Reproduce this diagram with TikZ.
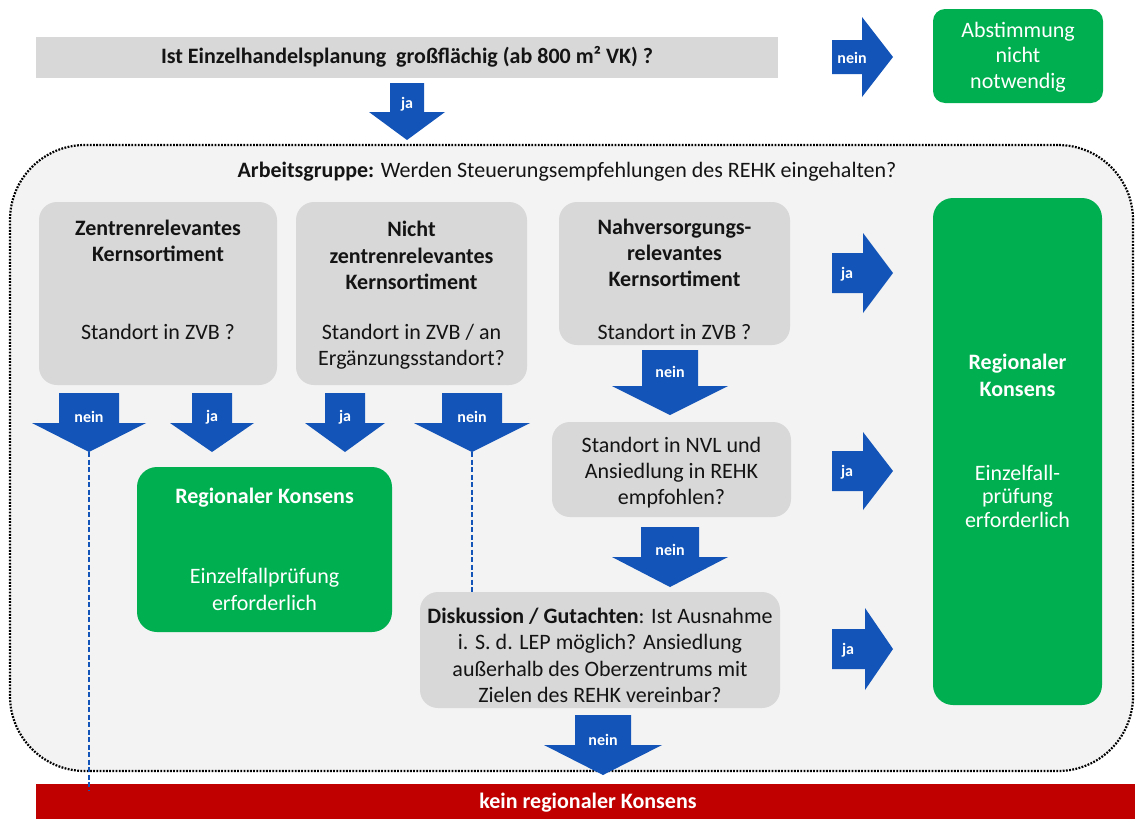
\documentclass[tikz,border=0pt]{standalone}
\usepackage{fontspec}
\setmainfont{Carlito}
\usetikzlibrary{calc}
\definecolor{gbox}{RGB}{216,216,216}
\definecolor{bgc}{RGB}{243,243,243}
\definecolor{grn}{RGB}{0,176,80}
\definecolor{blu}{RGB}{18,84,184}
\definecolor{kred}{RGB}{192,0,0}
\newcommand\DArr[9]{% name, cx, top, headtop, tip, shaft half, head half, label y, label
  \fill[blu] (#2-#6,#3) -- (#2+#6,#3) -- (#2+#6,#4) -- (#2+#7,#4) -- (#2,#5)
     -- (#2-#7,#4) -- (#2-#6,#4) -- cycle;
  \coordinate (#1tip) at (#2,#5);
  \node[arrlbl] (#1) at (#2,#8) {#9};}
\newcommand\RArr[9]{% name, left, cy, head base, tip, shaft half, head half, label x, label
  \fill[blu] (#2,#3-#6) -- (#4,#3-#6) -- (#4,#3-#7) -- (#5,#3) -- (#4,#3+#7)
     -- (#4,#3+#6) -- (#2,#3+#6) -- cycle;
  \coordinate (#1tip) at (#5,#3);
  \node[arrlbl] (#1) at (#8,#3+1) {#9};}
\begin{document}
\begin{tikzpicture}[x=1pt,y=-1pt,
  txt/.style={font=\fontsize{22}{26.3}\selectfont, align=center, inner sep=0pt, text=black!92},
  wtxt/.style={txt, text=white},
  arrlbl/.style={font=\fontsize{16}{18}\selectfont\bfseries, text=white, inner sep=0pt},
  graybox/.style={fill=gbox, rounded corners=18pt, inner sep=0pt},
  greenbox/.style={fill=grn, rounded corners=20pt, inner sep=0pt},
  dashblue/.style={blu, line width=2.2pt, dash pattern=on 5pt off 2.5pt}]
\useasboundingbox (0,0) rectangle (1135,819);
\fill[white] (0,0) rectangle (1135,819);

% top question
\node[fill=gbox, minimum width=742, minimum height=41, inner sep=0pt] (qbar) at (407,57.5) {};
\node[txt, font=\fontsize{22}{26.3}\selectfont\bfseries] (qtxt) at (407,57) {Ist Einzelhandelsplanung~ großflächig (ab 800 m² VK) ?};

\node[greenbox, rounded corners=12pt, minimum width=170, minimum height=94] (g0) at (1018,56) {};
\node[wtxt, font=\fontsize{22}{25.5}\selectfont] (g0t) at (1018,57) {Abstimmung\\nicht\\notwendig};

\RArr{anein}{832}{57}{862}{893}{17}{40}{852}{nein}
\DArr{aja}{407}{83}{112}{140}{17}{38}{104}{ja}

% container
\node[fill=bgc, draw=black, line width=2.2pt, dash pattern=on 1.8pt off 1.4pt,
      rounded corners=75pt, minimum width=1123, minimum height=626, inner sep=0pt] (ag) at (571.5,458) {};
\node[txt] (agt) at (567,172) {\textbf{Arbeitsgruppe:} Werden Steuerungsempfehlungen des REHK eingehalten?};

% gray boxes
\node[graybox, minimum width=238, minimum height=183] (b1) at (158,293.5) {};
\node[txt] (b1a) at (158,241) {\textbf{Zentrenrelevantes}\\\textbf{Kernsortiment}};
\node[txt] (b1b) at (158,332) {Standort in ZVB ?};

\node[graybox, minimum width=231, minimum height=183] (b2) at (411.5,293.5) {};
\node[txt] (b2a) at (411.5,255.5) {\textbf{Nicht}\\\textbf{zentrenrelevantes}\\\textbf{Kernsortiment}};
\node[txt] (b2b) at (411.5,346.5) {Standort in ZVB / an\\Ergänzungsstandort?};

\node[graybox, minimum width=231, minimum height=143] (b3) at (674.5,273.5) {};
\node[txt] (b3a) at (674.5,253) {\textbf{Nahversorgungs-}\\\textbf{relevantes}\\\textbf{Kernsortiment}};
\node[txt] (b3b) at (674.5,332) {Standort in ZVB ?};

\node[graybox, minimum width=239, minimum height=95] (b4) at (671.5,469.5) {};
\node[txt] (b4a) at (671.5,472.5) {Standort in NVL und\\Ansiedlung in REHK\\empfohlen?};

\node[graybox, minimum width=360, minimum height=116] (b5) at (600,650) {};
\node[txt] (b5a) at (600,655.5) {\textbf{Diskussion / Gutachten}: Ist Ausnahme\\i. S. d. LEP möglich? Ansiedlung\\außerhalb des Oberzentrums mit\\Zielen des REHK vereinbar?};

% green boxes
\node[greenbox, minimum width=169, minimum height=507] (g1) at (1017.5,451.5) {};
\node[wtxt] (g1a) at (1017.5,375.5) {\textbf{Regionaler}\\\textbf{Konsens}};
\node[wtxt, font=\fontsize{22}{23.5}\selectfont] (g1b) at (1017.5,496) {Einzelfall-\\prüfung\\erforderlich};

\node[greenbox, minimum width=255, minimum height=165] (g2) at (264.5,549.5) {};
\node[wtxt] (g2a) at (264.5,498) {\textbf{Regionaler Konsens}};
\node[wtxt] (g2b) at (264.5,589.5) {Einzelfallprüfung\\erforderlich};

% red bar
\node[fill=kred, minimum width=1099, minimum height=36, inner sep=0pt] (red) at (585.5,802) {};
\node[wtxt, font=\fontsize{22}{26.3}\selectfont\bfseries] (redt) at (588,803) {kein regionaler Konsens};

% arrows
\RArr{aja1}{832}{273}{863}{893}{20}{40}{847}{ja}
\RArr{aja2}{832}{471}{863}{893}{20}{39}{847}{ja}
\RArr{aja3}{832}{649}{865}{893}{20}{41}{848}{ja}

\DArr{an1}{89}{393}{423}{452}{30}{57}{417}{nein}
\DArr{aj2}{212}{393}{423}{452}{20}{42}{417}{ja}
\DArr{aj3}{345}{393}{423}{452}{20}{40}{417}{ja}
\DArr{an4}{472}{393}{423}{452}{30}{58}{417}{nein}
\DArr{an5}{670}{350}{386}{415}{28}{58}{372}{nein}
\DArr{an6}{670}{527}{557}{587}{29}{58}{550}{nein}
\DArr{an7}{603}{715}{745}{775}{28}{59}{740}{nein}

% dashed connectors
\draw[dashblue] (an1tip) -- ($(an1tip |- red.north)+(0,6)$);
\draw[dashblue] (an4tip) -- (an4tip |- b5.north);
\end{tikzpicture}
\end{document}
